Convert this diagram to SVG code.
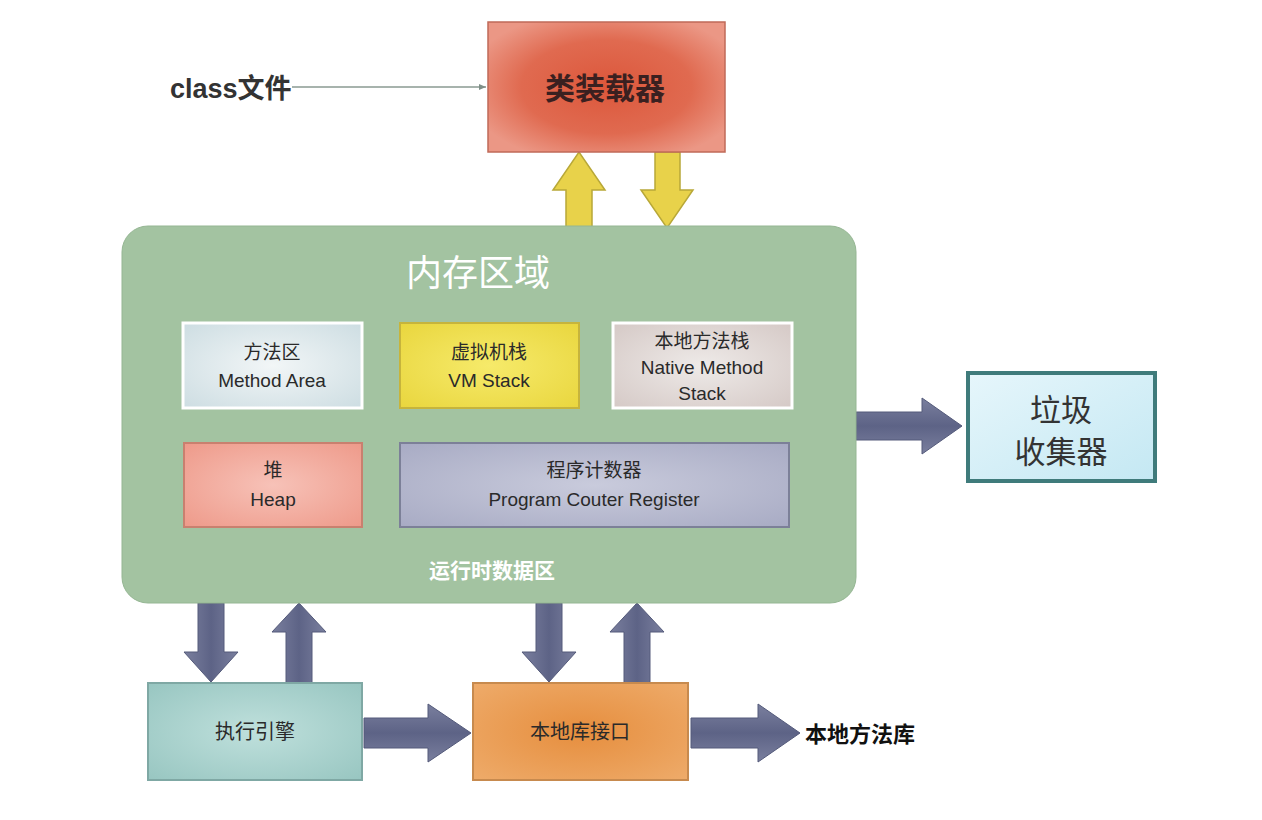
<svg xmlns="http://www.w3.org/2000/svg" width="1262" height="820" viewBox="0 0 1262 820">
<defs>
<radialGradient id="gRed" cx="0.5" cy="0.5" r="0.6"><stop offset="0" stop-color="#dc573b"/><stop offset="0.6" stop-color="#e06a50"/><stop offset="1" stop-color="#eb9785"/></radialGradient>
<radialGradient id="gMeth" cx="0.5" cy="0.5" r="0.7"><stop offset="0" stop-color="#f2f6f7"/><stop offset="1" stop-color="#cddde2"/></radialGradient>
<radialGradient id="gVM" cx="0.5" cy="0.5" r="0.7"><stop offset="0" stop-color="#f6ea6a"/><stop offset="1" stop-color="#e9d63e"/></radialGradient>
<radialGradient id="gNat" cx="0.5" cy="0.5" r="0.7"><stop offset="0" stop-color="#eeeae8"/><stop offset="1" stop-color="#d5c9c6"/></radialGradient>
<radialGradient id="gHeap" cx="0.5" cy="0.5" r="0.7"><stop offset="0" stop-color="#f7c2b8"/><stop offset="1" stop-color="#ee9a8a"/></radialGradient>
<radialGradient id="gPC" cx="0.5" cy="0.5" r="0.7"><stop offset="0" stop-color="#c9cbdc"/><stop offset="1" stop-color="#a8abc4"/></radialGradient>
<radialGradient id="gExe" cx="0.5" cy="0.5" r="0.7"><stop offset="0" stop-color="#bfe0dc"/><stop offset="1" stop-color="#98c6c1"/></radialGradient>
<radialGradient id="gNI" cx="0.5" cy="0.5" r="0.7"><stop offset="0" stop-color="#e68e3e"/><stop offset="1" stop-color="#eeab6a"/></radialGradient>
<linearGradient id="gGC" x1="0" y1="0" x2="1" y2="1"><stop offset="0" stop-color="#e6f6fb"/><stop offset="1" stop-color="#c4e8f3"/></linearGradient>
<linearGradient id="gArrH" x1="0" y1="0" x2="0" y2="1"><stop offset="0" stop-color="#7a7f9e"/><stop offset="0.5" stop-color="#5d6386"/><stop offset="1" stop-color="#7a7f9e"/></linearGradient>
<linearGradient id="gArrV" x1="0" y1="0" x2="1" y2="0"><stop offset="0" stop-color="#7a7f9e"/><stop offset="0.5" stop-color="#5d6386"/><stop offset="1" stop-color="#7a7f9e"/></linearGradient>
<marker id="thin" markerWidth="8" markerHeight="8" refX="7" refY="4" orient="auto" markerUnits="userSpaceOnUse"><path d="M0,1 L7,4 L0,7 z" fill="#7f8f88"/></marker>
</defs>
<style>
.cjk{font-family:"Noto Sans CJK SC","Liberation Sans",sans-serif;}
.lat{font-family:"Liberation Sans","Noto Sans CJK SC",sans-serif;}
.inner{font-size:19px;fill:#2a2a2a;text-anchor:middle;}
.yel{fill:#e8d24a;stroke:#b8a838;stroke-width:1.5;}
.blu{stroke:#545a7a;stroke-width:1;}
</style>
<rect width="1262" height="820" fill="#ffffff"/>

<g id="connectors">
<line x1="292" y1="87" x2="486" y2="87" stroke="#8a9a92" stroke-width="1.5" marker-end="url(#thin)"/>
<path class="yel" d="M566,228 L566,190 L553,190 L579,152 L605,190 L592,190 L592,228 Z"/>
<path class="yel" d="M655,152 L655,190 L641,190 L667,228 L693,190 L680,190 L680,152 Z"/>
<path class="blu" fill="url(#gArrH)" d="M856,412 L922,412 L922,398 L962,426 L922,454 L922,440 L856,440 Z"/>
<path class="blu" fill="url(#gArrV)" d="M198,603 L198,652 L184,652 L211,682 L238,652 L224,652 L224,603 Z"/>
<path class="blu" fill="url(#gArrV)" d="M286,683 L286,632 L272,632 L299,603 L326,632 L312,632 L312,683 Z"/>
<path class="blu" fill="url(#gArrV)" d="M536,603 L536,652 L522,652 L549,682 L576,652 L562,652 L562,603 Z"/>
<path class="blu" fill="url(#gArrV)" d="M624,683 L624,632 L610,632 L637,603 L664,632 L650,632 L650,683 Z"/>
<path class="blu" fill="url(#gArrH)" d="M364,718 L428,718 L428,704 L471,733 L428,762 L428,748 L364,748 Z"/>
<path class="blu" fill="url(#gArrH)" d="M691,718 L758,718 L758,704 L800,733 L758,762 L758,748 L691,748 Z"/>
</g>

<g id="class-file">
<text x="170" y="98" class="lat" font-size="27" font-weight="bold" fill="#333">class<tspan class="cjk">文件</tspan></text>
</g>

<g id="class-loader">
<rect x="488" y="22" width="237" height="130" fill="url(#gRed)" stroke="#c06a58" stroke-width="1.5"/>
<text x="605" y="99" class="cjk" font-size="30" font-weight="bold" fill="#3a2020" text-anchor="middle">类装载器</text>
</g>

<g id="memory-area">
<rect x="122" y="226" width="734" height="377" rx="26" fill="#a3c3a1" stroke="#95b693" stroke-width="1"/>
<text x="478" y="286" class="cjk" font-size="36" fill="#ffffff" text-anchor="middle">内存区域</text>
<text x="492" y="578" class="cjk" font-size="21" font-weight="bold" fill="#ffffff" text-anchor="middle">运行时数据区</text>
</g>

<g id="method-area">
<rect x="183" y="323" width="179" height="85" fill="url(#gMeth)" stroke="#ffffff" stroke-width="3"/>
<text x="272" y="359" class="cjk inner">方法区</text>
<text x="272" y="387" class="lat inner">Method Area</text>
</g>

<g id="vm-stack">
<rect x="400" y="323" width="179" height="85" fill="url(#gVM)" stroke="#c6b43c" stroke-width="2"/>
<text x="489" y="359" class="cjk inner">虚拟机栈</text>
<text x="489" y="387" class="lat inner">VM Stack</text>
</g>

<g id="native-method-stack">
<rect x="613" y="323" width="179" height="85" fill="url(#gNat)" stroke="#ffffff" stroke-width="3"/>
<text x="702" y="348" class="cjk inner">本地方法栈</text>
<text x="702" y="374" class="lat inner">Native Method</text>
<text x="702" y="400" class="lat inner">Stack</text>
</g>

<g id="heap">
<rect x="184" y="443" width="178" height="84" fill="url(#gHeap)" stroke="#c9806f" stroke-width="2"/>
<text x="273" y="477" class="cjk inner">堆</text>
<text x="273" y="506" class="lat inner">Heap</text>
</g>

<g id="program-counter">
<rect x="400" y="443" width="389" height="84" fill="url(#gPC)" stroke="#7c8098" stroke-width="2"/>
<text x="594" y="477" class="cjk inner">程序计数器</text>
<text x="594" y="506" class="lat inner">Program Couter Register</text>
</g>

<g id="garbage-collector">
<rect x="968" y="373" width="187" height="108" fill="url(#gGC)" stroke="#3f7b7b" stroke-width="4"/>
<text x="1061" y="421" class="cjk" font-size="31" fill="#333" text-anchor="middle">垃圾</text>
<text x="1061" y="463" class="cjk" font-size="31" fill="#333" text-anchor="middle">收集器</text>
</g>

<g id="execution-engine">
<rect x="148" y="683" width="214" height="97" fill="url(#gExe)" stroke="#7fa8a4" stroke-width="2"/>
<text x="255" y="739" class="cjk" font-size="20" fill="#2a2a2a" text-anchor="middle">执行引擎</text>
</g>

<g id="native-interface">
<rect x="473" y="683" width="215" height="97" fill="url(#gNI)" stroke="#c78a4e" stroke-width="2"/>
<text x="580" y="739" class="cjk" font-size="20" fill="#2a2a2a" text-anchor="middle">本地库接口</text>
</g>

<g id="native-library">
<text x="805" y="742" class="cjk" font-size="22" font-weight="bold" fill="#111">本地方法库</text>
</g>
</svg>
